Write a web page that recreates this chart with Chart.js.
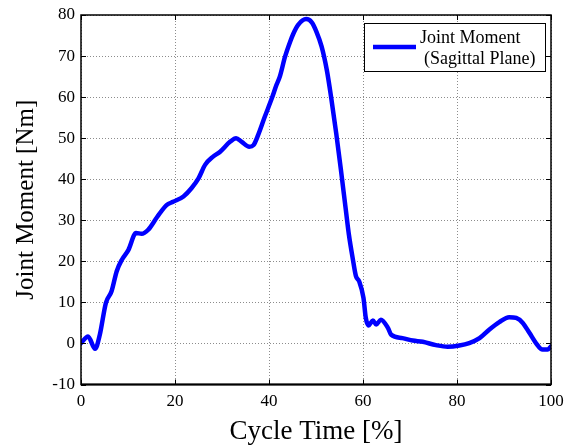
<!DOCTYPE html>
<html>
<head>
<meta charset="utf-8">
<script src="https://cdn.jsdelivr.net/npm/chart.js@4/dist/chart.umd.min.js"></script>
<style>
  html, body { margin: 0; padding: 0; background: #fff; }
  #wrap { width: 566px; height: 448px; position: relative; }
</style>
</head>
<body>
<div id="wrap"><canvas id="chart"></canvas></div>
<script>
// ─── DATA ─────────────────────────────────────────────────
const seriesLabel = 'Joint Moment (Sagittal Plane)';
const legendLines = ['Joint Moment', '(Sagittal Plane)'];
const cycleTime = [
    0, 1.5, 3.0, 4.0, 5.3, 6.5, 7.6, 8.7, 10.1, 11.7,
    12.9, 14.3, 16.2, 18.2, 19.6, 21.8, 23.5, 25.0, 26.4, 28.1,
    29.6, 31.7, 33.0, 34.2, 35.8, 36.7, 37.7, 39.1, 40.6, 41.6,
    42.3, 43.4, 44.5, 45.2, 46.2, 47.9, 49.1, 50.1, 51.2, 52.3,
    53.2, 54.3, 55.3, 56.4, 57.0, 57.8, 58.5, 59.2, 60.1, 60.6,
    61.2, 62.1, 62.8, 63.8, 65.3, 66.0, 68.4, 70.6, 72.7, 75.5,
    78.0, 80.5, 82.6, 84.8, 86.9, 89.0, 91.1, 92.6, 94.0, 95.4,
    96.8, 98.2, 99.3, 100,
];
const jointMoment = [
    0.1, 1.7, -1.3, 2.1, 9.9, 12.7, 17.6, 20.4, 22.8, 26.9,
    26.7, 27.7, 30.8, 33.7, 34.5, 35.8, 37.8, 40.2, 43.5, 45.5,
    46.7, 49.1, 50.0, 49.1, 47.9, 48.3, 50.8, 55.2, 59.7, 63.0,
    65.0, 69.8, 73.5, 75.5, 77.6, 79.0, 78.2, 75.9, 72.3, 66.6,
    60.1, 51.2, 42.3, 32.0, 26.5, 20.8, 16.4, 15.1, 11.1, 6.2,
    4.4, 5.6, 4.6, 5.8, 3.8, 2.1, 1.3, 0.7, 0.4, -0.4,
    -0.8, -0.5, 0.1, 1.3, 3.4, 5.2, 6.4, 6.2, 5.0, 2.6,
    0.1, -1.5, -1.5, -0.7,
];
const xTicks = [0, 20, 40, 60, 80, 100];
const yTicks = [-10, 0, 10, 20, 30, 40, 50, 60, 70, 80];

// ─── STYLE ────────────────────────────────────────────────
const SERIF = "'Liberation Serif', 'Times New Roman', serif";
const BLUE = '#0000FF';
const GRID = 'rgba(0,0,0,0.45)';

// box frame + inward ticks (matlab style)
const framePlugin = {
    id: 'frame',
    afterDraw(chart) {
        const { ctx, chartArea: a, scales } = chart;
        ctx.save();
        ctx.strokeStyle = '#000';
        ctx.lineWidth = 1;
        ctx.beginPath();
        xTicks.forEach(v => {
            const px = Math.round(scales.x.getPixelForValue(v)) + 0.5;
            ctx.moveTo(px, a.bottom); ctx.lineTo(px, a.bottom - 5);
            ctx.moveTo(px, a.top); ctx.lineTo(px, a.top + 5);
        });
        yTicks.forEach(v => {
            const py = Math.round(scales.y.getPixelForValue(v)) + 0.5;
            ctx.moveTo(a.left, py); ctx.lineTo(a.left + 5, py);
            ctx.moveTo(a.right, py); ctx.lineTo(a.right - 5, py);
        });
        ctx.stroke();
        ctx.lineWidth = 1.5;
        ctx.strokeRect(a.left, a.top, a.right - a.left, a.bottom - a.top);
        ctx.lineWidth = 2;
        ctx.beginPath();
        ctx.moveTo(a.left, a.bottom); ctx.lineTo(a.right, a.bottom);
        ctx.stroke();
        ctx.restore();
    },
};

// legend box, top right inside the plot
const legendPlugin = {
    id: 'boxLegend',
    afterDraw(chart) {
        const { ctx, chartArea: a } = chart;
        const ds = chart.data.datasets[0];
        const x0 = a.right - 187, y0 = a.top + 8, w = 181, h = 48;
        ctx.save();
        ctx.fillStyle = '#fff';
        ctx.fillRect(x0, y0, w, h);
        ctx.strokeStyle = '#000';
        ctx.lineWidth = 1;
        ctx.strokeRect(x0 + 0.5, y0 + 0.5, w, h);
        ctx.strokeStyle = ds.borderColor;
        ctx.lineWidth = 4.5;
        ctx.beginPath();
        ctx.moveTo(x0 + 9, y0 + 24); ctx.lineTo(x0 + 52, y0 + 24);
        ctx.stroke();
        ctx.fillStyle = '#000';
        ctx.font = '18px ' + SERIF;
        ctx.textBaseline = 'middle';
        ctx.fillText(legendLines[0], x0 + 56, y0 + 15);
        ctx.fillText(legendLines[1], x0 + 60, y0 + 36);
        ctx.restore();
    },
};

new Chart(document.getElementById('chart'), {
    type: 'line',
    data: {
        datasets: [{
            label: seriesLabel,
            data: cycleTime.map((x, i) => ({ x, y: jointMoment[i] })),
            borderColor: BLUE,
            backgroundColor: BLUE,
            borderWidth: 4.5,
            pointRadius: 0,
            fill: false,
            cubicInterpolationMode: 'monotone',
            borderJoinStyle: 'round',
            borderCapStyle: 'round',
        }],
    },
    options: {
        responsive: true,
        maintainAspectRatio: false,
        animation: false,
        layout: { padding: { left: 0, top: 15, right: 15, bottom: 0 } },
        plugins: {
            legend: { display: false },
            tooltip: { enabled: false },
        },
        scales: {
            x: {
                type: 'linear',
                min: 0,
                max: 100,
                afterBuildTicks: (s) => { s.ticks = xTicks.map(v => ({ value: v })); },
                afterFit: (s) => { s.height = 63.5; s.paddingLeft = 0; s.paddingRight = 0; },
                ticks: { color: '#000', padding: 7, font: { family: SERIF, size: 17 }, maxRotation: 0 },
                grid: { color: GRID, lineWidth: 1, drawTicks: false },
                border: { display: false, dash: [1, 2] },
                title: {
                    display: true,
                    text: 'Cycle Time [%]',
                    color: '#000',
                    font: { family: SERIF, size: 27 },
                    padding: { top: 0, bottom: 0 },
                },
            },
            y: {
                min: -10,
                max: 80,
                afterBuildTicks: (s) => { s.ticks = yTicks.map(v => ({ value: v })); },
                afterFit: (s) => { s.width = 81; s.paddingTop = 0; s.paddingBottom = 0; },
                ticks: { color: '#000', padding: 6, font: { family: SERIF, size: 17 } },
                grid: { color: GRID, lineWidth: 1, drawTicks: false },
                border: { display: false, dash: [1, 2] },
                title: {
                    display: true,
                    text: 'Joint Moment [Nm]',
                    color: '#000',
                    font: { family: SERIF, size: 25 },
                    padding: { top: 11, bottom: 0 },
                },
            },
        },
    },
    plugins: [framePlugin, legendPlugin],
});
</script>
</body>
</html>
